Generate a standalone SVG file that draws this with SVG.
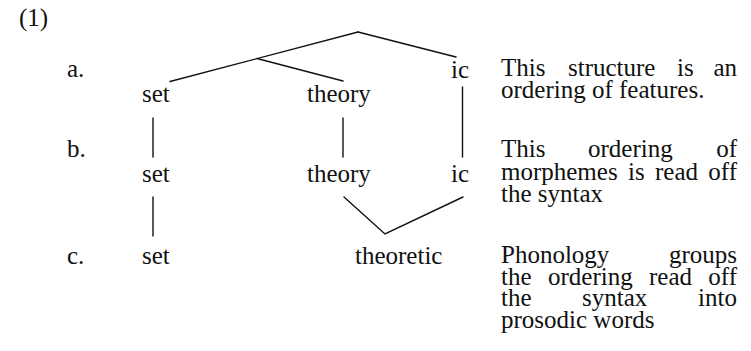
<svg xmlns="http://www.w3.org/2000/svg" width="751" height="351" viewBox="0 0 751 351">
<style>
text{font-family:"Liberation Serif","Times New Roman",serif;font-size:25px;fill:#111}
.e{text-anchor:end}
line,polyline{stroke:#111;stroke-width:1.4;fill:none;stroke-linecap:round;stroke-linejoin:miter}
</style>
<rect width="751" height="351" fill="#fff"/>
<g id="labels">
<text x="19" y="26">(1)</text>
<text x="67" y="77">a.</text>
<text x="67" y="157">b.</text>
<text x="67" y="264">c.</text>
</g>
<g id="node-set-a"><text x="142" y="102">set</text></g>
<g id="node-theory-a"><text x="307" y="102">theory</text></g>
<g id="node-ic-a"><text x="451" y="78">ic</text></g>
<g id="node-set-b"><text x="142" y="182">set</text></g>
<g id="node-theory-b"><text x="307" y="182">theory</text></g>
<g id="node-ic-b"><text x="451" y="182">ic</text></g>
<g id="node-set-c"><text x="142" y="264">set</text></g>
<g id="node-theoretic-c"><text x="355" y="264">theoretic</text></g>
<g id="connectors">
<line x1="170" y1="81.5" x2="358" y2="32"/>
<line x1="257" y1="58.5" x2="343" y2="81"/>
<line x1="358" y1="32" x2="456" y2="57"/>
<line x1="153" y1="118" x2="153" y2="157"/>
<line x1="343" y1="118" x2="343" y2="157"/>
<line x1="462.5" y1="87" x2="462.5" y2="157"/>
<line x1="153" y1="197" x2="153" y2="236"/>
<polyline points="344,197 385,234 463,197"/>
</g>
<g id="note-a">
<text x="501" y="76">This</text><text x="568" y="76">structure</text><text x="677" y="76">is</text><text class="e" x="737" y="76">an</text>
<text x="501" y="98">ordering of features.</text>
</g>
<g id="note-b">
<text x="501" y="157">This</text><text x="588" y="157">ordering</text><text class="e" x="737" y="157">of</text>
<text x="501" y="180">morphemes</text><text x="628" y="180">is</text><text x="655" y="180">read</text><text class="e" x="737" y="180">off</text>
<text x="501" y="202">the syntax</text>
</g>
<g id="note-c">
<text x="501" y="263">Phonology</text><text class="e" x="737" y="263">groups</text>
<text x="501" y="285">the</text><text x="548" y="285">ordering</text><text x="649" y="285">read</text><text class="e" x="737" y="285">off</text>
<text x="501" y="306">the</text><text x="582" y="306">syntax</text><text class="e" x="737" y="306">into</text>
<text x="501" y="328">prosodic words</text>
</g>
</svg>
